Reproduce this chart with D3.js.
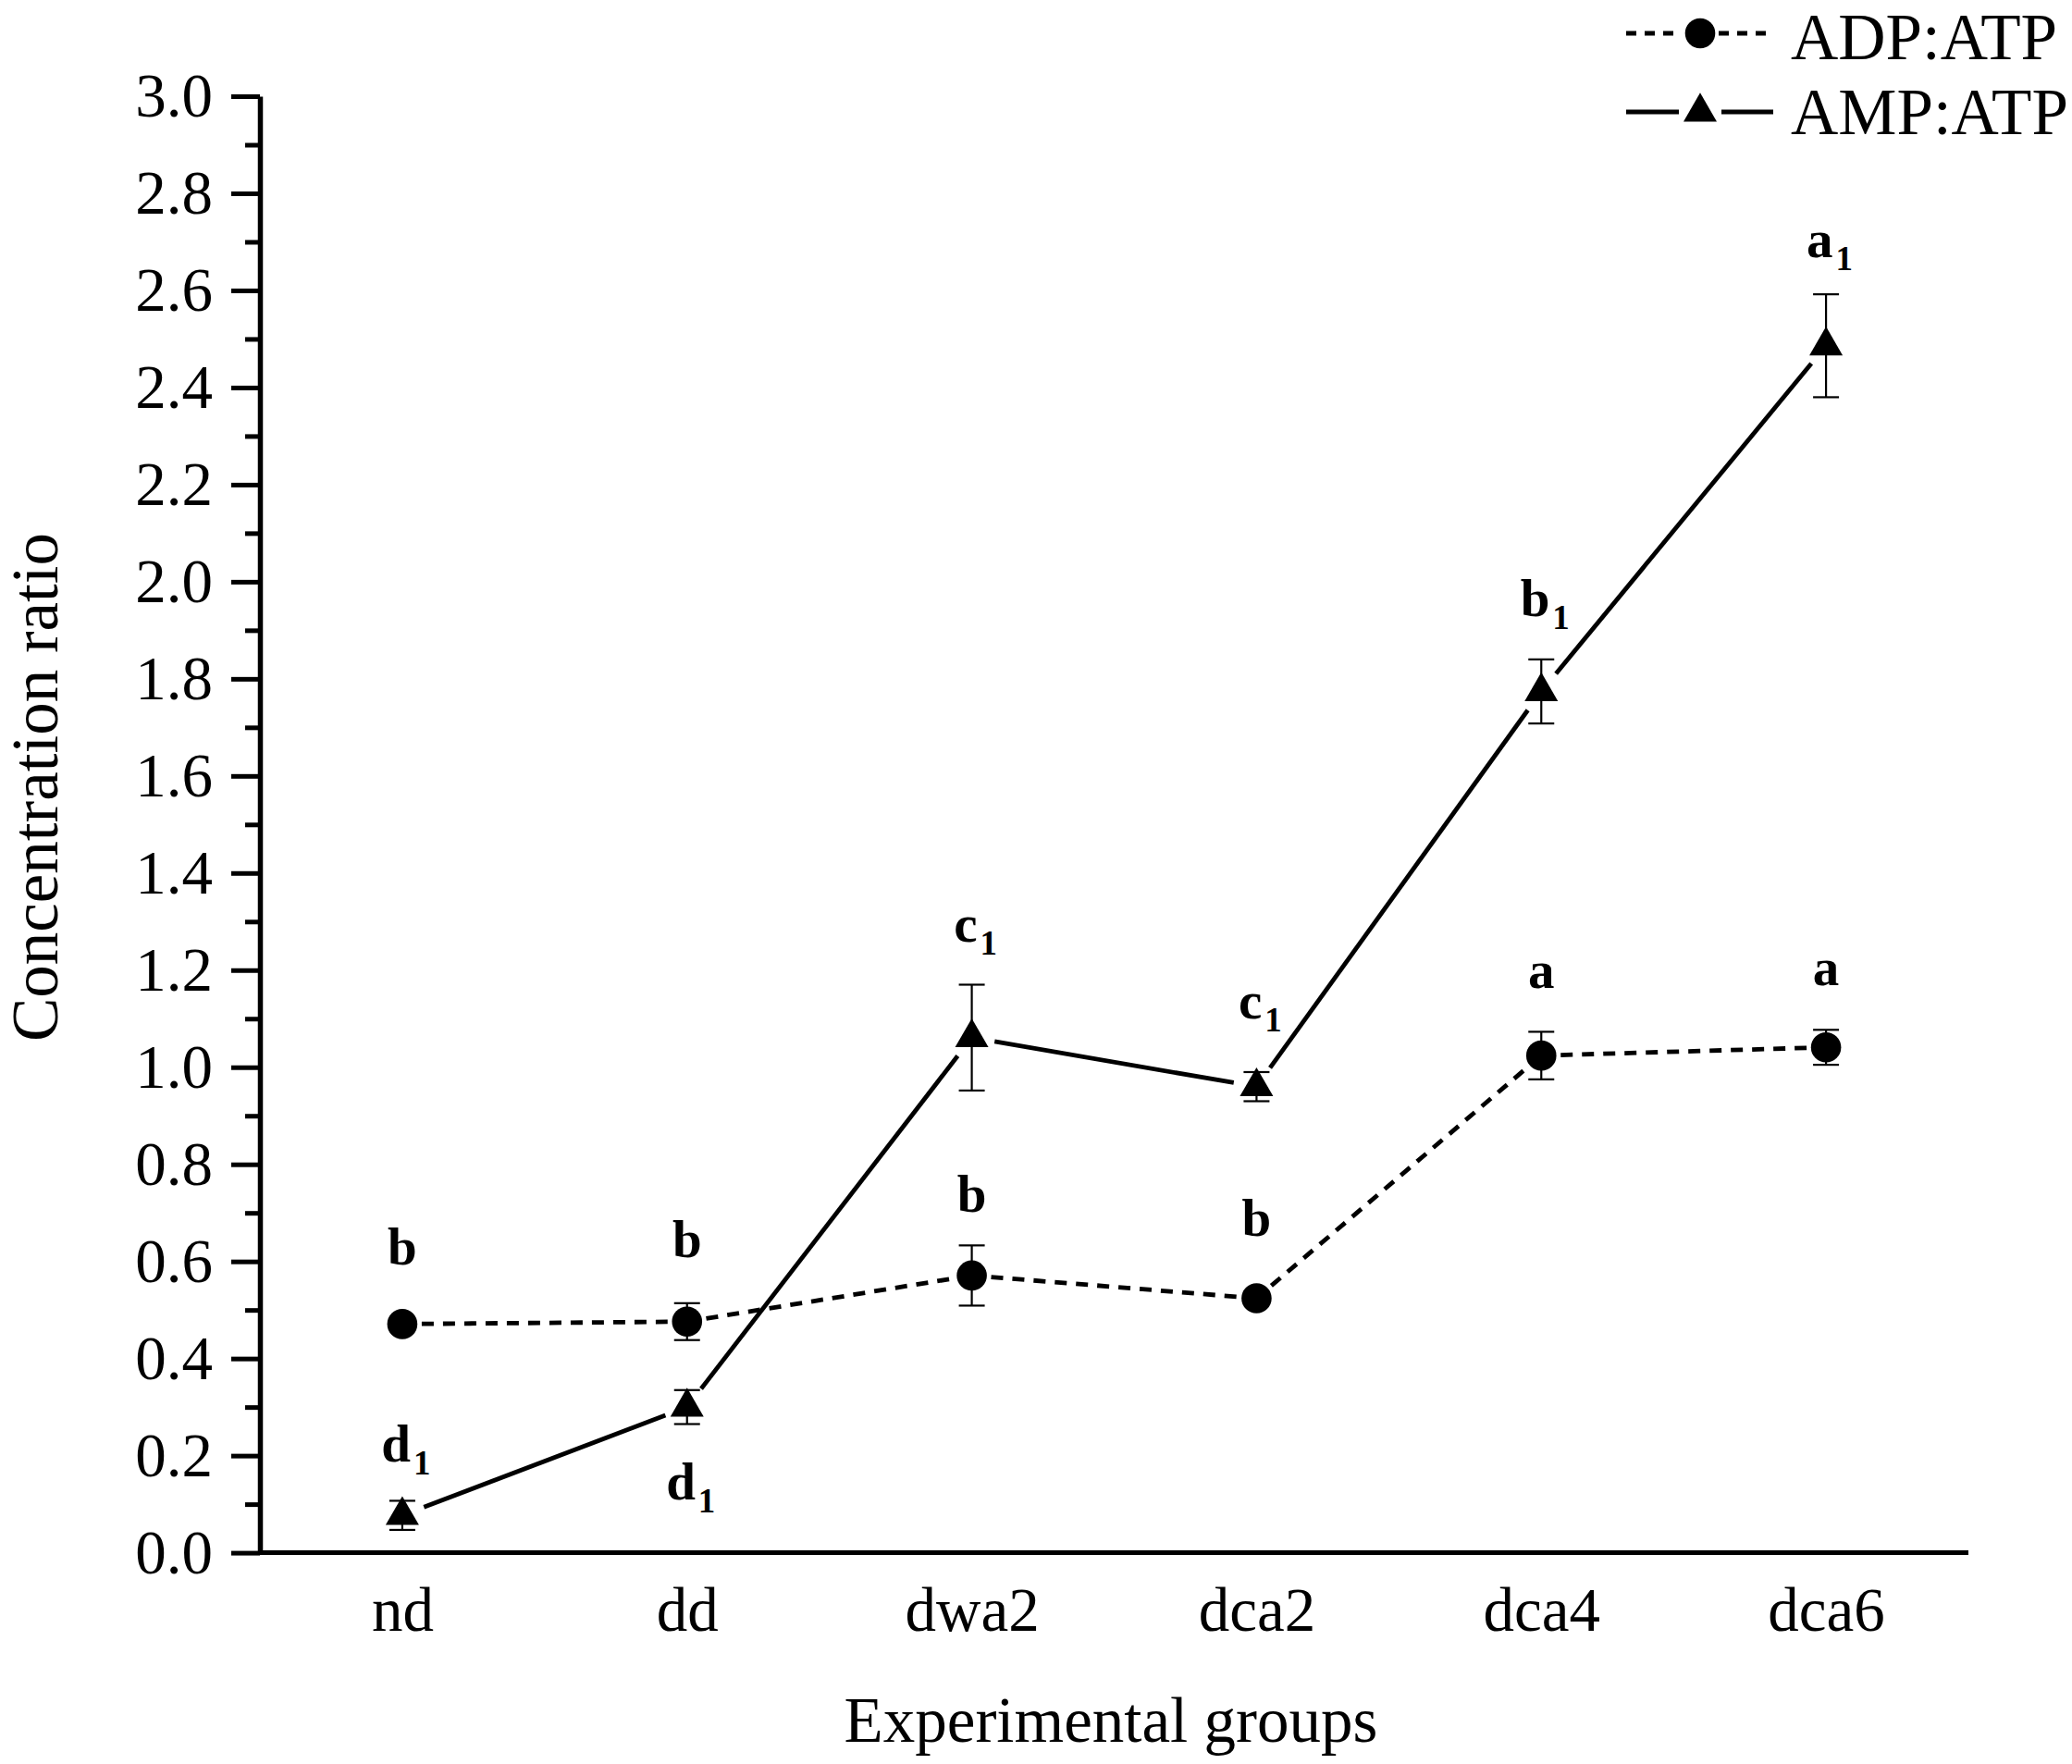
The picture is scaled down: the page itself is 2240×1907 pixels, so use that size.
<!DOCTYPE html>
<html><head><meta charset="utf-8">
<script src="https://cdn.jsdelivr.net/npm/d3@7/dist/d3.min.js"></script>
<style>html,body{margin:0;padding:0;background:#fff}svg{display:block}</style>
</head><body><svg id="chart" width="2240" height="1907"></svg>
<script>
// ---- data ----
const categories = ["nd", "dd", "dwa2", "dca2", "dca4", "dca6"];
const seriesNames = ["ADP:ATP", "AMP:ATP"];
const adpAtp = [0.471, 0.476, 0.571, 0.524, 1.024, 1.041];
const adpErr = [0.010, 0.038, 0.062, 0.010, 0.049, 0.036];
const ampAtp = [0.077, 0.300, 1.061, 0.960, 1.774, 2.486];
const ampErr = [0.030, 0.035, 0.109, 0.030, 0.066, 0.106];
const adpLetters = ["b", "b", "b", "b", "a", "a"];
const adpLetterAt = [0.593, 0.608, 0.703, 0.652, 1.163, 1.169];
const ampLetters = ["d", "d", "c", "c", "b", "a"];
const ampSubscripts = ["1", "1", "1", "1", "1", "1"];
const ampLetterAt = [0.187, 0.110, 1.259, 1.100, 1.929, 2.669];
const yMajorTicks = [0.0, 0.2, 0.4, 0.6, 0.8, 1.0, 1.2, 1.4, 1.6, 1.8, 2.0, 2.2, 2.4, 2.6, 2.8, 3.0];
const yMinorTicks = [0.1, 0.3, 0.5, 0.7, 0.9, 1.1, 1.3, 1.5, 1.7, 1.9, 2.1, 2.3, 2.5, 2.7, 2.9];
const yTitle = "Concentration ratio";
const xTitle = "Experimental groups";

// ---- layout ----
const svg = d3.select("#chart");
const FONT = "'Liberation Serif','Times New Roman',Times,serif";
const plotLeft = 281, plotRight = 2128, plotTop = 104, plotBottom = 1678.6;
svg.append("rect").attr("width", 2240).attr("height", 1907).attr("fill", "#fff");

const x = d3.scalePoint().domain(categories).range([plotLeft, plotRight]).padding(0.5);
const y = d3.scaleLinear().domain([0, 3]).range([plotBottom, plotTop]);

// y axis minor ticks
const gMinor = svg.append("g").attr("transform", `translate(${plotLeft},0)`)
  .call(d3.axisLeft(y).tickValues(yMinorTicks).tickSize(16).tickSizeOuter(0).tickFormat(""));
gMinor.select(".domain").remove();
gMinor.selectAll("line").attr("stroke", "#000").attr("stroke-width", 5);

// y axis major
const gy = svg.append("g").attr("transform", `translate(${plotLeft},0)`)
  .call(d3.axisLeft(y).tickValues(yMajorTicks).tickSize(31).tickSizeOuter(0).tickPadding(20)
    .tickFormat(d3.format(".1f")));
gy.select(".domain").attr("stroke", "#000").attr("stroke-width", 5.5);
gy.selectAll("line").attr("stroke", "#000").attr("stroke-width", 5);
gy.selectAll("text").attr("font-family", FONT).attr("font-size", 67).attr("fill", "#000");

// x axis
const gx = svg.append("g").attr("transform", `translate(0,${plotBottom})`)
  .call(d3.axisBottom(x).tickSize(0).tickSizeOuter(0));
gx.select(".domain").attr("stroke", "#000").attr("stroke-width", 5)
  .attr("d", `M${plotLeft - 2},0H${plotRight}`);
gx.selectAll("text").attr("font-family", FONT).attr("font-size", 67).attr("fill", "#000")
  .attr("y", 84).attr("dy", 0);

// axis titles
svg.append("text").attr("transform", `translate(62,851) rotate(-90)`)
  .attr("text-anchor", "middle").attr("font-family", FONT).attr("font-size", 71)
  .text(yTitle);
svg.append("text").attr("x", 1201).attr("y", 1883)
  .attr("text-anchor", "middle").attr("font-family", FONT).attr("font-size", 69)
  .text(xTitle);

// ---- series ----
const circleSym = d3.symbol().type(d3.symbolCircle).size(Math.PI * 16.3 * 16.3);
const triSym = d3.symbol().type(d3.symbolTriangle).size(561);

function drawSeries(vals, errs, dash, gap) {
  const pts = categories.map((c, i) => [x(c), y(vals[i])]);
  const g = svg.append("g");
  for (let i = 0; i < pts.length - 1; i++) {
    const [x1, y1] = pts[i], [x2, y2] = pts[i + 1];
    const dx = x2 - x1, dy = y2 - y1, L = Math.hypot(dx, dy);
    const ux = dx / L, uy = dy / L;
    g.append("path")
      .attr("d", d3.line()([[x1 + ux * gap, y1 + uy * gap], [x2 - ux * gap, y2 - uy * gap]]))
      .attr("fill", "none").attr("stroke", "#000").attr("stroke-width", 4.8)
      .attr("stroke-dasharray", dash);
  }
  const eg = svg.append("g").attr("stroke", "#000").attr("stroke-width", 2.2);
  categories.forEach((c, i) => {
    const cx = x(c), yt = y(vals[i] + errs[i]), yb = y(vals[i] - errs[i]);
    eg.append("line").attr("x1", cx).attr("x2", cx).attr("y1", yt).attr("y2", yb);
    eg.append("line").attr("x1", cx - 14).attr("x2", cx + 14).attr("y1", yt).attr("y2", yt);
    eg.append("line").attr("x1", cx - 14).attr("x2", cx + 14).attr("y1", yb).attr("y2", yb);
  });
  return pts;
}

const adpPts = drawSeries(adpAtp, adpErr, "13,10", 21);
const ampPts = drawSeries(ampAtp, ampErr, null, 25);

svg.append("g").selectAll("path").data(adpPts).join("path")
  .attr("transform", d => `translate(${d[0]},${d[1]})`).attr("d", circleSym).attr("fill", "#000");
svg.append("g").selectAll("path").data(ampPts).join("path")
  .attr("transform", d => `translate(${d[0]},${d[1]})`).attr("d", triSym).attr("fill", "#000");

// significance letters
svg.append("g").selectAll("text").data(categories).join("text")
  .attr("x", c => x(c)).attr("y", (c, i) => y(adpLetterAt[i]))
  .attr("text-anchor", "middle").attr("font-family", FONT).attr("font-weight", "bold")
  .attr("font-size", 57).text((c, i) => adpLetters[i]);

const ampLab = svg.append("g").selectAll("text").data(categories).join("text")
  .attr("x", c => x(c) + 4).attr("y", (c, i) => y(ampLetterAt[i]))
  .attr("text-anchor", "middle").attr("font-family", FONT).attr("font-weight", "bold")
  .attr("font-size", 57);
ampLab.append("tspan").text((c, i) => ampLetters[i]);
ampLab.append("tspan").attr("dx", 3).attr("dy", 14).attr("font-size", 37).text((c, i) => ampSubscripts[i]);

// ---- legend ----
const lg = svg.append("g");
const legendRows = [
  {name: seriesNames[0], y: 36, ty: 64, dash: "11,9", sym: circleSym, gap: 20},
  {name: seriesNames[1], y: 121, ty: 145, dash: null, sym: triSym, gap: 23}
];
legendRows.forEach(r => {
  const x1 = 1758, x2 = 1917, cx = 1838;
  [[x1, cx - r.gap], [cx + r.gap, x2]].forEach(seg => {
    lg.append("line").attr("x1", seg[0]).attr("x2", seg[1]).attr("y1", r.y).attr("y2", r.y)
      .attr("stroke", "#000").attr("stroke-width", 4.8).attr("stroke-dasharray", r.dash);
  });
  lg.append("path").attr("transform", `translate(${cx},${r.y})`).attr("d", r.sym).attr("fill", "#000");
  lg.append("text").attr("x", 1936).attr("y", r.ty).attr("font-family", FONT)
    .attr("font-size", 71).text(r.name);
});
</script></body></html>
